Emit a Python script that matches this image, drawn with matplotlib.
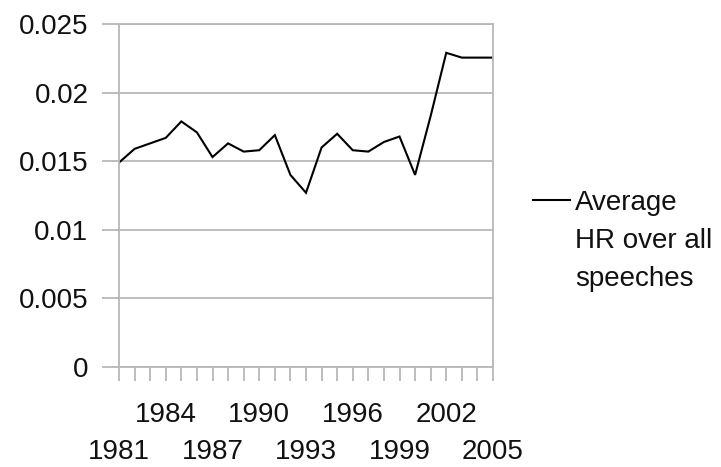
import matplotlib
matplotlib.use('Agg')
import matplotlib.pyplot as plt
from matplotlib.lines import Line2D
from matplotlib.ticker import FixedLocator, FixedFormatter

plt.rcParams['font.family'] = ['Liberation Sans', 'DejaVu Sans']

years = list(range(1981, 2006))
avg_hr = [0.0149, 0.0159, 0.0163, 0.0167, 0.0179, 0.0171, 0.0153, 0.0163,
          0.0157, 0.0158, 0.0169, 0.0140, 0.0127, 0.0160, 0.0170, 0.0158,
          0.0157, 0.0164, 0.0168, 0.0140, 0.0183, 0.0229, 0.02255, 0.02255,
          0.02255]
y_ticks = [0, 0.005, 0.01, 0.015, 0.02, 0.025]
y_tick_labels = ['0', '0.005', '0.01', '0.015', '0.02', '0.025']
legend_label = 'Average\nHR over all\nspeeches'

W, H = 721, 467
fig = plt.figure(figsize=(W / 100, H / 100), dpi=100)
ax = fig.add_axes([119 / W, 100 / H, 374 / W, 343 / H])

x = list(range(len(years)))
ax.plot(x, avg_hr, color='black', lw=1.5, solid_joinstyle='miter')
ax.set_xlim(0, len(years) - 1)
ax.set_ylim(0, 0.025)

grid_c = '#b8b8b8'
ax.set_yticks(y_ticks)
ax.set_yticklabels(y_tick_labels)
ax.yaxis.grid(True, color=grid_c, lw=1.3)
ax.set_axisbelow(True)

# staggered category labels: every third year, alternating rows
row1_pos = [i for i in x if i % 3 == 0 and (i // 3) % 2 == 1]
row1_lab = [str(years[i]) for i in row1_pos]
other_pos = [i for i in x if i not in row1_pos]
other_lab = [str(years[i]) if i % 3 == 0 else '' for i in other_pos]

ax.xaxis.set_major_locator(FixedLocator(row1_pos))
ax.xaxis.set_major_formatter(FixedFormatter(row1_lab))
ax.xaxis.set_minor_locator(FixedLocator(other_pos))
ax.xaxis.set_minor_formatter(FixedFormatter(other_lab))

for s in ax.spines.values():
    s.set_color(grid_c)
    s.set_linewidth(1.3)

ax.tick_params(axis='x', which='major', length=10, width=1.3, color=grid_c,
               pad=15, labelsize=20, labelcolor='#111111')
ax.tick_params(axis='x', which='minor', length=10, width=1.3, color=grid_c,
               pad=42, labelsize=20, labelcolor='#111111')
ax.tick_params(axis='y', length=12, width=1.3, color=grid_c, pad=10,
               labelsize=20, labelcolor='#111111')

# legend
fig.add_artist(Line2D([533 / W, 570 / W], [1 - 200 / H, 1 - 200 / H],
                      color='black', lw=1.5, transform=fig.transFigure))
fig.text(575 / W, 1 - 190 / H, legend_label, ha='left', va='top',
         fontsize=20, linespacing=1.6, color='#111111')

fig.savefig('out.png', dpi=100)
